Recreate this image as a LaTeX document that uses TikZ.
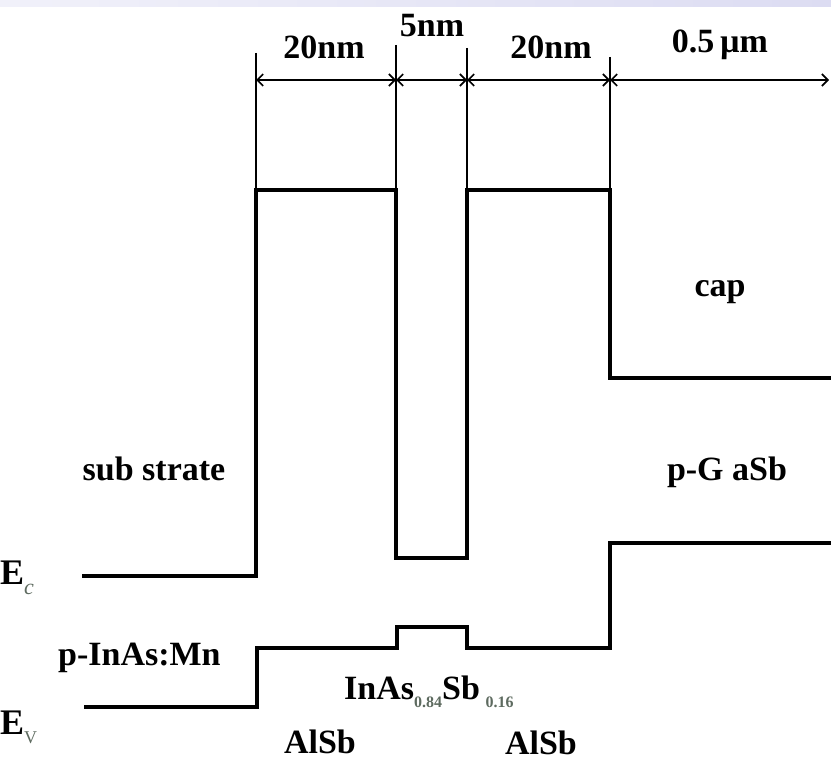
\documentclass[tikz,border=0pt]{standalone}
\usepackage{fontspec}
\setmainfont{Liberation Serif}
\usetikzlibrary{arrows.meta}
\definecolor{subgray}{HTML}{5E6B60}
\definecolor{barL}{HTML}{F1F1FA}
\definecolor{barR}{HTML}{DCDCF2}
\begin{document}
\begin{tikzpicture}[x=1pt,y=-1pt,
  band/.style={line width=4pt, line join=miter},
  tickline/.style={line width=1.6pt},
  dimarrow/.style={line width=1.6pt,
    {Straight Barb[length=6pt,width=12pt,line width=1.6pt]}-{Straight Barb[length=6pt,width=12pt,line width=1.6pt]}},
  lbl/.style={font=\fontsize{34}{38}\selectfont\bfseries, inner sep=0pt},
  elbl/.style={font=\fontsize{36}{38}\selectfont\bfseries, inner sep=0pt},
]
\useasboundingbox (0,0) rectangle (831,760);
\shade[left color=barL, right color=barR] (0,0) rectangle (831,7);

% conduction band
\coordinate (c0) at (82,576);
\coordinate (c1) at (256,576);
\coordinate (c2) at (256,190);
\coordinate (c3) at (396,190);
\coordinate (c4) at (396,558);
\coordinate (c5) at (467,558);
\coordinate (c6) at (467,190);
\coordinate (c7) at (610,190);
\coordinate (c8) at (610,378);
\coordinate (c9) at (831,378);
\draw[band] (c0) -- (c1) -- (c2) -- (c3) -- (c4) -- (c5) -- (c6) -- (c7) -- (c8) -- (c9);

% valence band
\coordinate (v0) at (84,707);
\coordinate (v1) at (257,707);
\coordinate (v2) at (257,648);
\coordinate (v3) at (397,648);
\coordinate (v4) at (397,627);
\coordinate (v5) at (467,627);
\coordinate (v6) at (467,648);
\coordinate (v7) at (610,648);
\coordinate (v8) at (610,543);
\coordinate (v9) at (831,543);
\draw[band] (v0) -- (v1) -- (v2) -- (v3) -- (v4) -- (v5) -- (v6) -- (v7) -- (v8) -- (v9);

% extension lines
\coordinate (t1) at (256,53);
\coordinate (t2) at (396,45);
\coordinate (t3) at (467,48);
\coordinate (t4) at (610,57);
\draw[tickline] (t1) -- (c2);
\draw[tickline] (t2) -- (c3);
\draw[tickline] (t3) -- (c6);
\draw[tickline] (t4) -- (c7);

% dimension arrows
\coordinate (d1) at (256,80);
\coordinate (d2) at (396,80);
\coordinate (d3) at (467,80);
\coordinate (d4) at (610,80);
\coordinate (d5) at (829,80);
\draw[dimarrow] (d1) -- (d2);
\draw[dimarrow] (d2) -- (d3);
\draw[dimarrow] (d3) -- (d4);
\draw[dimarrow] (d4) -- (d5);

% dimension labels
\node[lbl, anchor=base] (w1) at (324,59) {20nm};
\node[lbl, anchor=base] (w2) at (432,37) {5nm};
\node[lbl, anchor=base] (w3) at (551,59) {20nm};
\node[lbl, anchor=base] (w4) at (720,53) {0.5\,µm};

% region labels
\node[lbl, anchor=base] (capl) at (720,296) {cap};
\node[lbl, anchor=base] (subl) at (154,480) {sub strate};
\node[lbl, anchor=base] (gasb) at (727,480) {p-G aSb};
\node[lbl, anchor=base west] (inas) at (58,665) {p-InAs:Mn};
\node[lbl, anchor=base west] (qw) at (344,699) {InAs\raisebox{-0.25em}{\fontsize{16}{16}\selectfont\color{subgray}0.84}Sb\,\raisebox{-0.25em}{\fontsize{16}{16}\selectfont\color{subgray}0.16}};
\node[lbl, anchor=base] (alsb1) at (320,753) {AlSb};
\node[lbl, anchor=base] (alsb2) at (541,754) {AlSb};

% band edge labels
\node[elbl, anchor=base west] (ec) at (0,584) {E\raisebox{-0.3em}{\fontsize{22}{22}\selectfont\mdseries\itshape\color{subgray}c}};
\node[elbl, anchor=base west] (ev) at (0,734) {E\raisebox{-0.25em}{\fontsize{18}{18}\selectfont\mdseries\color{subgray}V}};
\end{tikzpicture}
\end{document}
